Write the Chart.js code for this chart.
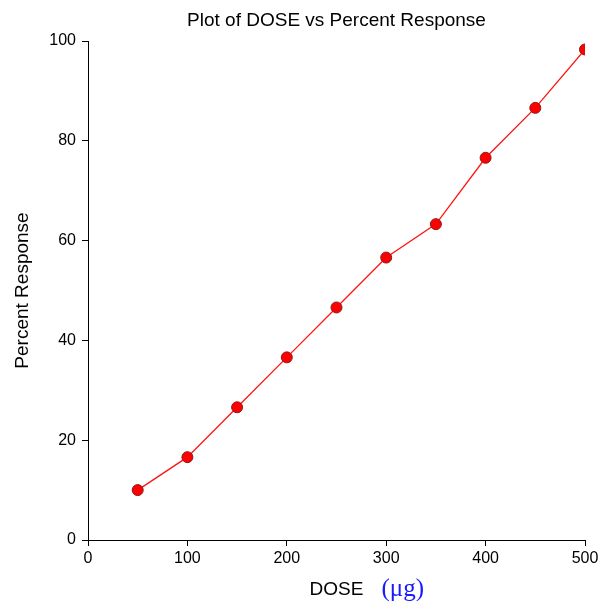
<!DOCTYPE html>
<html>
<head>
<meta charset="utf-8">
<script src="https://cdn.jsdelivr.net/npm/chart.js@4"></script>
<style>
  html, body { margin: 0; padding: 0; background: #fff; }
  #wrap { width: 608px; height: 601px; }
</style>
</head>
<body>
<div id="wrap"><canvas id="doseChart" width="608" height="601"></canvas></div>
<script>
const dose = [50, 100, 150, 200, 250, 300, 350, 400, 450, 500]
const percentResponse = [10, 16.6, 26.6, 36.6, 46.6, 56.6, 63.3, 76.6, 86.6, 98.3]
const xTicks = [0, 100, 200, 300, 400, 500]
const yTicks = [0, 20, 40, 60, 80, 100]

const fonte = 'Liberation Sans, Arial, sans-serif'

// titles drawn by hand so the x title can mix fonts
const titlesPlugin = {
  id: 'titles',
  afterDraw(chart) {
    const ctx = chart.ctx
    const area = chart.chartArea
    const cx = (area.left + area.right) / 2
    ctx.save()
    ctx.fillStyle = '#000'
    ctx.textBaseline = 'middle'
    ctx.textAlign = 'center'
    ctx.font = '19px ' + fonte
    ctx.fillText('Plot of DOSE vs Percent Response', cx, 21)

    ctx.fillText('DOSE', cx, 590)
    const w = ctx.measureText('DOSE').width
    ctx.textAlign = 'left'
    ctx.fillStyle = '#1a1aff'
    ctx.font = '25px Liberation Serif, Times New Roman, serif'
    ctx.fillText('(\u03bcg)', cx + w / 2 + 18, 589)

    ctx.fillStyle = '#000'
    ctx.font = '19px ' + fonte
    ctx.translate(23, (area.top + area.bottom) / 2)
    ctx.rotate(-Math.PI / 2)
    ctx.textAlign = 'center'
    ctx.fillText('Percent Response', 0, 0)
    ctx.restore()
  }
}

new Chart(document.getElementById('doseChart').getContext('2d'), {
  type: 'scatter',
  data: {
    datasets: [{
      data: dose.map((d, i) => ({ x: d, y: percentResponse[i] })),
      showLine: true,
      borderColor: 'rgb(255, 20, 20)',
      backgroundColor: '#ff0000',
      borderWidth: 1.3,
      pointRadius: 5.5,
      pointBackgroundColor: '#ff0000',
      pointBorderColor: '#8b1a1a',
      pointBorderWidth: 1
    }]
  },
  options: {
    responsive: false,
    animation: false,
    layout: { padding: { top: 41, right: 23, left: 0, bottom: 0 } },
    scales: {
      x: {
        type: 'linear',
        min: 0,
        max: 500,
        afterBuildTicks: s => { s.ticks = xTicks.map(v => ({ value: v })) },
        afterFit: s => { s.height = 61 },
        grid: { drawOnChartArea: false, tickLength: 6, color: '#000' },
        border: { color: '#000', width: 1 },
        ticks: { color: '#000', padding: 3, font: { family: fonte, size: 16 } }
      },
      y: {
        type: 'linear',
        min: 0,
        max: 100,
        afterBuildTicks: s => { s.ticks = yTicks.map(v => ({ value: v })) },
        afterFit: s => { s.width = 88 },
        grid: { drawOnChartArea: false, tickLength: 6, color: '#000' },
        border: { color: '#000', width: 1 },
        ticks: { color: '#000', padding: 6, font: { family: fonte, size: 16 } }
      }
    },
    plugins: {
      legend: { display: false },
      tooltip: { enabled: false }
    }
  },
  plugins: [titlesPlugin]
})
</script>
</body>
</html>
